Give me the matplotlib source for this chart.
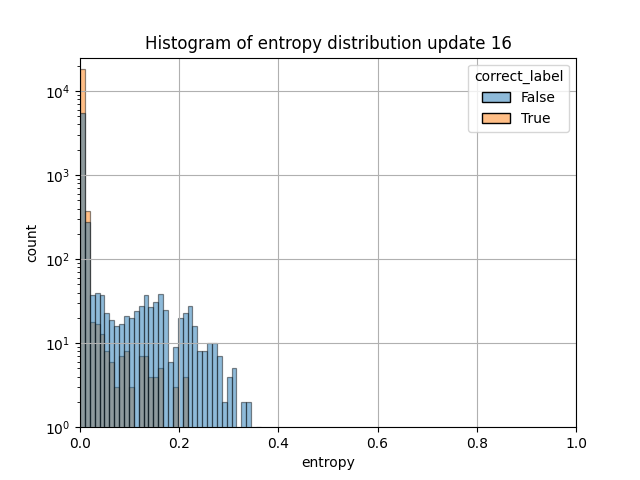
import matplotlib
matplotlib.use("Agg")
import matplotlib.pyplot as plt
import numpy as np
import pandas as pd
import seaborn as sns

# counts per entropy bin (bin width ~0.00986, starting at 0)
bin_width = 0.00986
false_counts = [5460, 278, 37, 40, 37, 23, 19, 16, 17, 21, 20, 24, 28, 37, 27, 31, 38, 25, 6,
                9, 20, 23, 28, 16, 8, 8, 10, 10, 7, 2, 4, 5, 0, 2, 2, 0, 1]
true_counts = [18300, 373, 18, 17, 13, 8, 6, 3, 7, 8, 3, 0, 7, 7, 4, 4, 5, 0, 0,
               3, 0, 4, 0, 0, 0, 0, 0, 0, 0, 0, 0, 0, 0, 0, 0, 0, 0]

edges = np.arange(len(false_counts) + 1) * bin_width
centers = (edges[:-1] + edges[1:]) / 2

df = pd.DataFrame({
    "entropy": np.concatenate([centers, centers]),
    "count": np.concatenate([false_counts, true_counts]),
    "correct_label": [False] * len(false_counts) + [True] * len(true_counts),
})

fig, ax = plt.subplots(figsize=(6.4, 4.8), dpi=100)
sns.histplot(data=df, x="entropy", weights="count", hue="correct_label",
             bins=edges.tolist(), edgecolor=(0, 0, 0, 0.45), ax=ax)
ax.set_yscale("log")
ax.set_ylim(1, 2.5e4)
ax.set_xlim(0, 1)
ax.set_xlabel("entropy")
ax.set_ylabel("count")
ax.set_title("Histogram of entropy distribution update 16")
ax.grid(True)

# legend patches keep solid black edges like the original
leg = ax.get_legend()
for h in leg.legend_handles:
    h.set_edgecolor("black")

fig.savefig("out.png")
